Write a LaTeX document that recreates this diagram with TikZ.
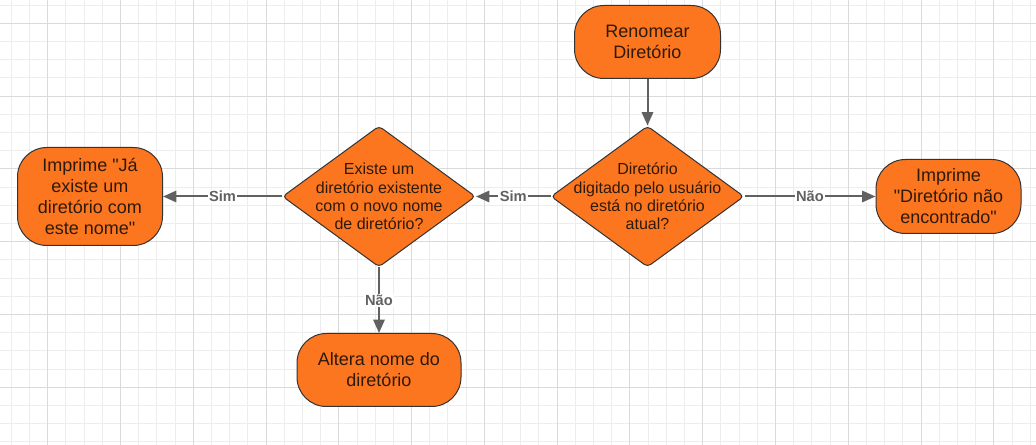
\documentclass[tikz,border=0pt]{standalone}
\usepackage{fontspec}
\setmainfont{Liberation Sans}[Ligatures=TeXOff]
\usetikzlibrary{shapes.geometric}
\usetikzlibrary{arrows.meta}

\definecolor{laranja}{HTML}{FC7620}
\definecolor{borda}{HTML}{333333}
\definecolor{seta}{HTML}{616161}
\definecolor{texto}{HTML}{2E1A0A}
\definecolor{gradefina}{HTML}{EDEDED}
\definecolor{gradegrossa}{HTML}{DADADA}

\begin{document}
\begin{tikzpicture}[%
x=0.75pt, y=-0.75pt,
>={Triangle[length=10pt,width=8.5pt]},
terminal/.style={draw=borda, line width=0.75pt, fill=laranja, rounded corners=22pt, align=center, text=texto, font=\fontsize{13.5}{15.75}\selectfont, inner sep=0pt},
decisao/.style={diamond, draw=borda, line width=0.75pt, fill=laranja, rounded corners=3pt, inner sep=0pt, minimum width=144.75pt, minimum height=105.75pt},
pergunta/.style={align=center, text=texto, font=\fontsize{12}{13.75}\selectfont, inner sep=0pt},
fluxo/.style={->, draw=seta, line width=1.5pt},
rotulo/.style={fill=white, text=seta, font=\fontsize{11}{12}\selectfont\bfseries, inner sep=1pt},
]

\useasboundingbox (0,0) rectangle (1036,445);
\fill[white] (0,0) rectangle (1036,445);

% grade de fundo
\pgfmathsetmacro{\passo}{18.195}
\pgfmathsetmacro{\passogrosso}{72.78}
\foreach \i in {0,...,56}
  \draw[gradefina, line width=0.75pt] ({11.31+\i*\passo},0) -- ({11.31+\i*\passo},445);
\foreach \j in {0,...,24}
  \draw[gradefina, line width=0.75pt] (0,{5.1+\j*18.2}) -- (1036,{5.1+\j*18.2});
\foreach \i in {0,...,13}
  \draw[gradegrossa, line width=0.75pt] ({47.7+\i*\passogrosso},0) -- ({47.7+\i*\passogrosso},445);
\foreach \j in {0,...,5}
  \draw[gradegrossa, line width=0.75pt] (0,{23.3+\j*72.8}) -- (1036,{23.3+\j*72.8});

\node[terminal, minimum width=109.5pt, minimum height=54.75pt] (renomear) at (647.5,42) {Renomear\\Diretório};

\node[decisao, label={[pergunta]center:{Diretório\\digitado pelo usuário\\está no diretório\\atual?}}] (noatual) at (647.5,196.5) {};
\node[decisao, label={[pergunta]center:{Existe um\\diretório existente\\com o novo nome\\de diretório?}}] (jaexiste) at (379,196.5) {};

\node[terminal, minimum width=108.75pt, minimum height=73.5pt] (avisoexiste) at (90,196.5) {Imprime "Já\\existe um\\diretório com\\este nome"};
\node[terminal, minimum width=108.75pt, minimum height=55.5pt] (naoencontrado) at (948.5,196.5) {Imprime\\"Diretório não\\encontrado"};
\node[terminal, minimum width=123pt, minimum height=54.75pt] (altera) at (379,370) {Altera nome do\\diretório};

\draw[fluxo] (renomear.south) -- (noatual.north);
\draw[fluxo] (noatual.west) -- (jaexiste.east) node[midway, rotulo]{Sim};
\draw[fluxo] (jaexiste.west) -- (avisoexiste.east) node[midway, rotulo]{Sim};
\draw[fluxo] (noatual.east) -- (naoencontrado.west) node[midway, rotulo]{Não};
\draw[fluxo] (jaexiste.south) -- (altera.north) node[midway, rotulo]{Não};

\end{tikzpicture}
\end{document}
